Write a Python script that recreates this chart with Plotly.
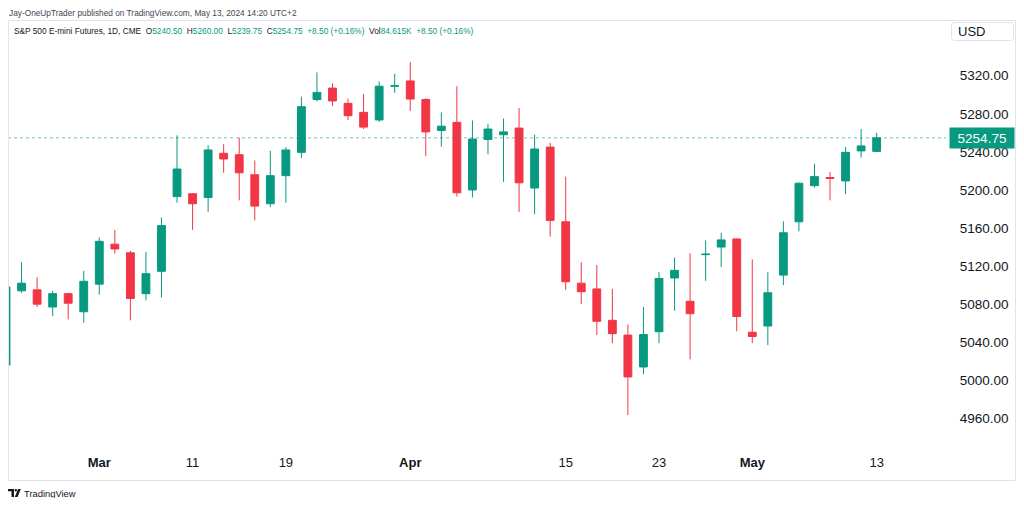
import plotly.graph_objects as go

# ---------------- data ----------------
dates = ["2024-02-22", "2024-02-23", "2024-02-26", "2024-02-27", "2024-02-28", "2024-02-29",
         "2024-03-01", "2024-03-04", "2024-03-05", "2024-03-06", "2024-03-07", "2024-03-08",
         "2024-03-11", "2024-03-12", "2024-03-13", "2024-03-14", "2024-03-15", "2024-03-18",
         "2024-03-19", "2024-03-20", "2024-03-21", "2024-03-22", "2024-03-25", "2024-03-26",
         "2024-03-27", "2024-03-28", "2024-04-01", "2024-04-02", "2024-04-03", "2024-04-04",
         "2024-04-05", "2024-04-08", "2024-04-09", "2024-04-10", "2024-04-11", "2024-04-12",
         "2024-04-15", "2024-04-16", "2024-04-17", "2024-04-18", "2024-04-19", "2024-04-22",
         "2024-04-23", "2024-04-24", "2024-04-25", "2024-04-26", "2024-04-29", "2024-04-30",
         "2024-05-01", "2024-05-02", "2024-05-03", "2024-05-06", "2024-05-07", "2024-05-08",
         "2024-05-09", "2024-05-10", "2024-05-13"]

opens = [5016, 5094, 5095, 5077, 5091, 5072,
         5101, 5143, 5134, 5091, 5114.5, 5193,
         5196, 5192, 5238.5, 5237, 5216, 5185.5,
         5215, 5239.5, 5295, 5307, 5291, 5281.5,
         5273.5, 5309, 5314.5, 5295, 5262.5, 5271,
         5200, 5253, 5258, 5265, 5202, 5245,
         5166.5, 5102, 5096, 5063, 5047.5, 5014,
         5051, 5107.5, 5083, 5132, 5140, 5148.5,
         5050.5, 5057, 5110.5, 5166.5, 5204.5, 5213,
         5209.5, 5241, 5240.5]
highs = [5101, 5124, 5108, 5094, 5092, 5115,
         5150, 5158, 5136, 5135, 5171, 5257.5,
         5196.5, 5247, 5248, 5255, 5231, 5241,
         5245, 5298, 5323.5, 5312, 5296, 5301,
         5314, 5322, 5334.5, 5296.5, 5281.5, 5309,
         5273, 5269.5, 5275, 5286, 5258, 5249.5,
         5214, 5124, 5121, 5096, 5058.5, 5077,
         5113.5, 5129, 5133.5, 5147, 5155, 5149,
         5127, 5113.5, 5167, 5208, 5227.5, 5219,
         5245, 5264, 5260]
lows = [5012, 5092, 5077, 5067.5, 5064, 5060.5,
        5090, 5133, 5063, 5084, 5087, 5186.5,
        5158, 5177, 5218, 5189, 5168, 5182,
        5186.5, 5233.5, 5293, 5288, 5273.5, 5264,
        5271.5, 5302, 5283, 5235.5, 5245.5, 5193,
        5192, 5237.5, 5208.5, 5177, 5174.5, 5151,
        5095, 5080, 5047.5, 5039, 4963.5, 5006.5,
        5039, 5073, 5022, 5104.5, 5119, 5051.5,
        5039, 5037, 5100, 5156.5, 5202.5, 5189,
        5195.5, 5234, 5239.75]
closes = [5098, 5102, 5080, 5091, 5081, 5104,
          5146, 5138, 5086, 5112, 5162.5, 5222,
          5185.5, 5242, 5232.5, 5218, 5183, 5215,
          5242, 5287.5, 5302.5, 5293.5, 5278, 5266,
          5309, 5309.5, 5295.5, 5261, 5267, 5197,
          5253.5, 5264, 5261, 5207.5, 5243, 5168,
          5103.5, 5093, 5062, 5049, 5003.5, 5048,
          5107, 5115.5, 5070, 5132.5, 5147.5, 5067,
          5046, 5092, 5155, 5207, 5214, 5212,
          5239.5, 5246.25, 5254.75]

tick_dates = ["2024-03-01", "2024-03-11", "2024-03-19", "2024-04-01",
              "2024-04-15", "2024-04-23", "2024-05-01", "2024-05-13"]
tick_labels = ["<b>Mar</b>", "11", "19", "<b>Apr</b>", "15", "23", "<b>May</b>", "13"]
price_ticks = [4960, 5000, 5040, 5080, 5120, 5160, 5200, 5240, 5280, 5320]

header_line = "Jay-OneUpTrader published on TradingView.com, May 13, 2024 14:20 UTC+2"
symbol_title = "S&P 500 E-mini Futures, 1D, CME"
volume_text = "84.615K"
currency = "USD"

# ---------------- styling ----------------
UP = "#089981"
DN = "#F23645"
TXT = "#131722"
FRAME = "#e0e3eb"
FONT = "Liberation Sans, Arial, sans-serif"

# The page body has an 8px margin: the figure sits at page (8, 8).
OFF = 8
W, H = 1008, 490
# plot area in page pixel coordinates
PL, PR, PT, PB = 8, 946, 21, 447


def pxx(px):
    return (px - PL) / (PR - PL)


def pxy(py):
    return (PB - py) / (PB - PT)


idx = list(range(len(dates)))
tickvals = [dates.index(d) for d in tick_dates]

fig = go.Figure(go.Candlestick(
    x=idx, open=opens, high=highs, low=lows, close=closes,
    increasing=dict(line=dict(color=UP, width=1), fillcolor=UP),
    decreasing=dict(line=dict(color=DN, width=1), fillcolor=DN),
    whiskerwidth=0, showlegend=False, hoverinfo="skip",
))

fig.update_layout(
    width=W, height=H, autosize=False,
    margin=dict(l=PL - OFF, r=(W + OFF) - PR, t=PT - OFF, b=(H + OFF) - PB, pad=0),
    paper_bgcolor="white", plot_bgcolor="white",
    boxgap=0.28,
    font=dict(family=FONT, color=TXT),
    xaxis=dict(
        range=[0.128, 60.46], tickvals=tickvals, ticktext=tick_labels,
        showgrid=False, zeroline=False, showline=False,
        ticks="outside", ticklen=3, tickcolor="rgba(0,0,0,0)",
        tickfont=dict(size=13, color=TXT, family=FONT),
        rangeslider=dict(visible=False), fixedrange=True,
    ),
    yaxis=dict(
        side="right", range=[4929.9, 5377.5],
        tickvals=price_ticks, ticktext=[f"{v:.2f}" for v in price_ticks],
        showgrid=False, zeroline=False, showline=False,
        ticks="outside", ticklen=10, tickcolor="rgba(0,0,0,0)",
        tickfont=dict(size=13.5, color=TXT, family=FONT), fixedrange=True,
    ),
)

last_close = closes[-1]
prev_close = closes[-2]
chg = last_close - prev_close
pct = chg / prev_close * 100

shapes = [
    # last-price dotted line
    dict(type="line", xref="paper", yref="y", x0=0, x1=1, y0=last_close, y1=last_close,
         line=dict(color="rgba(8,153,129,0.55)", width=1, dash="dot"), layer="above"),
    # pane frame
    dict(type="rect", xref="paper", yref="paper", x0=pxx(8.5), x1=pxx(1015.5),
         y0=pxy(480.5), y1=pxy(20.5), line=dict(color=FRAME, width=1), layer="above"),
]

# rounded USD box
bx0, bx1, by0, by1, r = 951.5, 1013.5, 22.5, 40.5, 3


def rpath(x0, x1, y0, y1, r):
    X = pxx
    Y = pxy
    return (f"M{X(x0 + r)},{Y(y0)} L{X(x1 - r)},{Y(y0)} Q{X(x1)},{Y(y0)} {X(x1)},{Y(y0 + r)} "
            f"L{X(x1)},{Y(y1 - r)} Q{X(x1)},{Y(y1)} {X(x1 - r)},{Y(y1)} "
            f"L{X(x0 + r)},{Y(y1)} Q{X(x0)},{Y(y1)} {X(x0)},{Y(y1 - r)} "
            f"L{X(x0)},{Y(y0 + r)} Q{X(x0)},{Y(y0)} {X(x0 + r)},{Y(y0)} Z")


shapes.append(dict(type="path", xref="paper", yref="paper", path=rpath(bx0, bx1, by0, by1, r),
                   line=dict(color=FRAME, width=1), fillcolor="white", layer="above"))

# TradingView logo (small glyph shapes)
X, Y = pxx, pxy
shapes.append(dict(type="path", xref="paper", yref="paper",
                   path=f"M{X(8)},{Y(489)} L{X(14)},{Y(489)} L{X(14)},{Y(497)} L{X(11.5)},{Y(497)} "
                        f"L{X(11.5)},{Y(491.3)} L{X(8)},{Y(491.3)} Z",
                   fillcolor=TXT, line=dict(width=0), layer="above"))
shapes.append(dict(type="circle", xref="paper", yref="paper", x0=X(14.6), x1=X(17), y0=Y(491.4),
                   y1=Y(489), fillcolor=TXT, line=dict(width=0), layer="above"))
shapes.append(dict(type="path", xref="paper", yref="paper",
                   path=f"M{X(18)},{Y(489)} L{X(20.8)},{Y(489)} L{X(17.6)},{Y(497)} L{X(14.8)},{Y(497)} Z",
                   fillcolor=TXT, line=dict(width=0), layer="above"))

fig.update_layout(shapes=shapes)


def g(v):
    return f'<span style="color:{UP}">{v}</span>'


sp = "\u00a0\u00a0"
legend_text = (f"{symbol_title}{sp}"
               f"O{g(f'{opens[-1]:.2f}')}{sp}H{g(f'{highs[-1]:.2f}')}{sp}"
               f"L{g(f'{lows[-1]:.2f}')}{sp}C{g(f'{last_close:.2f}')}{sp}"
               f"{g(f'{chg:+.2f} ({pct:+.2f}%)')}{sp}"
               f"Vol{g(volume_text)}{sp}{g(f'{chg:+.2f} ({pct:+.2f}%)')}")

annotations = [
    dict(text=header_line, xref="paper", yref="paper", x=pxx(7), y=pxy(13.5),
         xanchor="left", yanchor="middle", showarrow=False,
         font=dict(size=8.3, color="#434651", family=FONT)),
    dict(text=legend_text, xref="paper", yref="paper", x=pxx(11.5), y=pxy(30.5),
         xanchor="left", yanchor="middle", showarrow=False,
         font=dict(size=8.3, color=TXT, family=FONT)),
    dict(text=f"{last_close:.2f}", xref="paper", yref="y", x=1, y=last_close,
         xanchor="left", yanchor="middle", xshift=3, showarrow=False,
         bgcolor=UP, width=62, height=18, borderpad=1, align="center",
         font=dict(size=13.5, color="white", family=FONT)),
    dict(text=currency, xref="paper", yref="paper", x=pxx(956), y=pxy(31.5),
         xanchor="left", yanchor="middle", showarrow=False,
         font=dict(size=13, color=TXT, family=FONT)),
    dict(text="TradingView", xref="paper", yref="paper", x=pxx(22), y=pxy(493.5),
         xanchor="left", yanchor="middle", showarrow=False,
         font=dict(size=9.4, color=TXT, family=FONT)),
]
fig.update_layout(annotations=annotations)

fig.write_html("out.html")
